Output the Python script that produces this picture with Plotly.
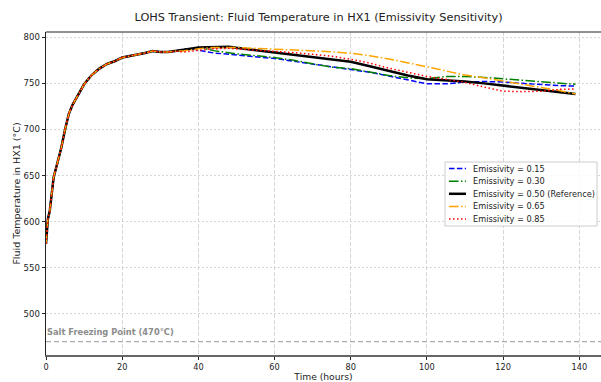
import plotly.graph_objects as go

# Time axis (hours)
time_h = [0, 0.5, 1, 2, 3, 4, 5, 6, 7, 8, 10, 12, 14, 16, 18, 20, 22, 24, 26, 28, 30, 32, 34,
          36, 38, 40, 44, 48, 50, 55, 60, 65, 70, 75, 80, 85, 90, 95, 100, 105, 110, 115,
          120, 125, 130, 135, 139]

common_rise = [576, 603, 612, 648, 664, 680, 700, 717, 727, 734, 749, 759, 766, 771, 774,
               778, 779.5, 781, 783, 785, 784, 784, 785]

emis_015 = common_rise + [787, 788, 786, 783, 781.5, 780.8, 779.3, 777, 774, 771, 768, 765, 762,
                          758, 754, 749.5, 749.5, 751.5, 752, 751.5, 750, 748.5, 747.5, 747]
emis_030 = common_rise + [786, 788, 789, 785.5, 783, 782, 780, 778, 775, 771.5, 767.5, 766, 762,
                          758.5, 756, 755, 757.5, 757.5, 756.5, 755, 753, 751.5, 750, 749]
emis_050 = common_rise + [786, 787.5, 789, 789.8, 789.8, 788.5, 786, 783.3, 781.5, 779, 776.5,
                          773.5, 768.5, 763.5, 758.5, 754.5, 753.5, 752, 750, 747.5, 745,
                          742.5, 740.5, 738.5]
emis_065 = common_rise + [785, 786.5, 787.5, 789, 789.5, 789, 788, 787, 786.3, 785.5, 784.3,
                          782.6, 780, 776.5, 772.5, 768, 763.5, 759, 756, 752.5, 749, 746,
                          742, 738.5]
emis_085 = common_rise + [784, 785, 786, 787.5, 788, 787.5, 786.5, 785, 783.3, 781.5, 779.5,
                          776, 772, 766.5, 762, 757.5, 754.5, 751, 746, 741.5, 741, 741.5,
                          743.5, 744]

series_names = ["Emissivity = 0.15", "Emissivity = 0.30", "Emissivity = 0.50 (Reference)",
                "Emissivity = 0.65", "Emissivity = 0.85"]
series_values = [emis_015, emis_030, emis_050, emis_065, emis_085]
series_colors = ["#0000ff", "#008000", "#000000", "#ffa500", "#ff0000"]
series_dash = ["5.5px,2.4px", "9.6px,2.4px,1.5px,2.4px", "solid", "9.6px,2.4px,1.5px,2.4px",
               "1.5px,2.5px"]
series_width = [1.5, 1.5, 2.5, 1.5, 1.5]

freezing_point = 470
x_ticks = [0, 20, 40, 60, 80, 100, 120, 140]
y_ticks = [500, 550, 600, 650, 700, 750, 800]

# plot-area geometry in pixels (used only to place the compact legend)
W, H = 601, 382
ML, MR, MT, MB = 46, 0, 32, 27
PW, PH = W - ML - MR, H - MT - MB


def px_to_paper(px, py):
    return (px - ML) / PW, (H - MB - py) / PH


fig = go.Figure()
for name, vals, col, dash, w in zip(series_names, series_values, series_colors, series_dash, series_width):
    fig.add_trace(go.Scatter(x=time_h, y=vals, mode="lines", name=name, showlegend=False,
                             line=dict(color=col, dash=dash, width=w)))

fig.add_hline(y=freezing_point, line=dict(color="#aaaaaa", dash="5px,3px", width=1.2))
fig.add_annotation(x=0, y=freezing_point, xref="x", yref="y", text="<b>Salt Freezing Point (470°C)</b>",
                   showarrow=False, xanchor="left", yanchor="bottom", yshift=3, xshift=-1,
                   font=dict(size=8.3, color="#8c8c8c", family="DejaVu Sans"))
# top spine
fig.add_shape(type="line", xref="paper", yref="paper", x0=0, x1=1, y0=1, y1=1,
              line=dict(color="#222222", width=1))

# compact legend (matplotlib-like)
bx0, by0 = px_to_paper(445, 226)
bx1, by1 = px_to_paper(597, 162)
fig.add_shape(type="rect", xref="paper", yref="paper", x0=bx0, y0=by0, x1=bx1, y1=by1,
              line=dict(color="#cccccc", width=1), fillcolor="rgba(255,255,255,0.85)", layer="above")
row_y = [168.5, 181.2, 193.8, 206.4, 219.0]
for name, col, dash, w, ry in zip(series_names, series_colors, series_dash, series_width, row_y):
    lx0, ly = px_to_paper(449, ry)
    lx1, _ = px_to_paper(466, ry)
    fig.add_shape(type="line", xref="paper", yref="paper", x0=lx0, x1=lx1, y0=ly, y1=ly,
                  line=dict(color=col, dash=dash, width=w), layer="above")
    tx, _ = px_to_paper(471, ry)
    fig.add_annotation(x=tx, y=ly, xref="paper", yref="paper", text=name, showarrow=False,
                       xanchor="left", yanchor="middle", font=dict(size=8.2, color="#222222"))

fig.update_layout(
    width=W, height=H,
    margin=dict(l=ML, r=MR, t=MT, b=MB),
    paper_bgcolor="white", plot_bgcolor="white",
    font=dict(family="DejaVu Sans", size=8.5, color="#222222"),
    title=dict(text="LOHS Transient: Fluid Temperature in HX1 (Emissivity Sensitivity)",
               x=0.53, xanchor="center", y=0.955, yanchor="middle",
               font=dict(size=11.3, color="#222222")),
    showlegend=False,
)
fig.update_xaxes(range=[0, 145.7], tickvals=x_ticks, ticks="outside", ticklen=3,
                 tickfont=dict(size=8.2),
                 tickcolor="#222222", showline=True, linecolor="#666666", linewidth=2,
                 showgrid=True, gridcolor="#d6d6d6", griddash="4px,2px", gridwidth=0.8,
                 zeroline=False, title=dict(text="Time (hours)", standoff=3, font=dict(size=9.2)))
fig.update_yaxes(range=[455.5, 805.7], tickvals=y_ticks, ticks="outside", ticklen=3.5,
                 tickcolor="#222222", showline=True, linecolor="#222222", linewidth=1,
                 showgrid=True, gridcolor="#d6d6d6", griddash="2px,2px", gridwidth=0.8,
                 zeroline=False, title=dict(text="Fluid Temperature in HX1 (°C)", standoff=1,
                                            font=dict(size=9.5)))

fig.write_html("out.html", config={"displayModeBar": False},
               post_script="document.body.style.margin='0';document.body.style.overflow='hidden';")
